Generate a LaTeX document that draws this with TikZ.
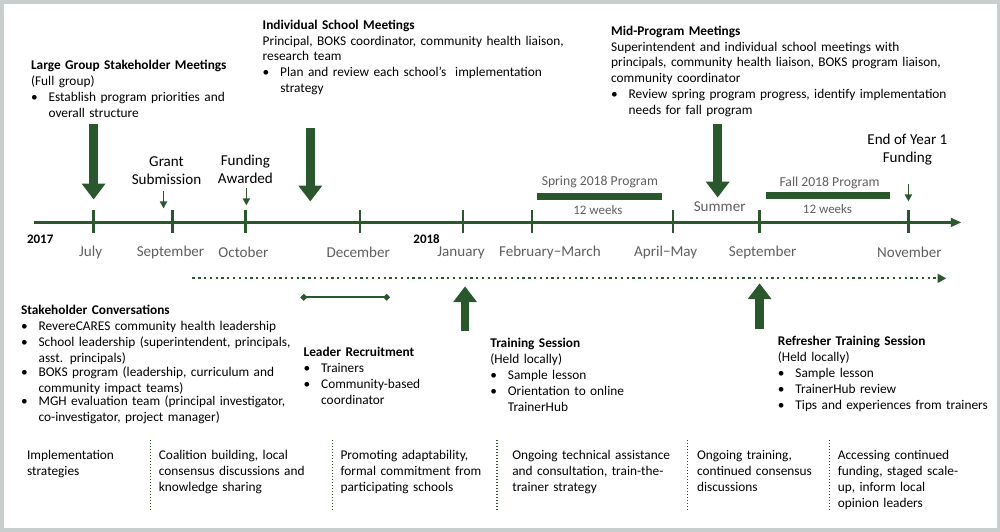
\documentclass[tikz,border=0pt]{standalone}
\usepackage{fontspec}
\setmainfont{Carlito}
\usetikzlibrary{arrows.meta}
\definecolor{gr}{RGB}{40,88,44}
\definecolor{mo}{RGB}{95,95,95}
\definecolor{fr}{RGB}{200,205,205}
\newcommand{\bl}[1]{\par\noindent\makebox[10pt][l]{•}\parbox[t]{8.5cm}{#1}}
\newcommand{\pl}[1]{\par\noindent #1}
\newcommand{\nl}{\newline}
\begin{document}
\begin{tikzpicture}[x=0.02cm,y=-0.02cm,
 txt/.style={anchor=north west,inner sep=0pt,text width=9cm,font=\fontsize{7.6}{9.1}\selectfont},
 mon/.style={text=mo,font=\fontsize{8.6}{10}\selectfont,inner sep=0pt},
 lab/.style={font=\fontsize{8.6}{10}\selectfont,inner sep=0pt,align=center},
 sml/.style={text=mo,font=\fontsize{7.4}{9}\selectfont,inner sep=0pt},
 yr/.style={font=\bfseries\fontsize{7.4}{9}\selectfont,inner sep=0pt},
 big/.style={gr,line width=5pt,-{Triangle[length=9pt,width=13pt]}},
 thin/.style={gr,line width=1pt,-{Triangle[length=4pt,width=4pt]}},
 sep/.style={gr,densely dotted,line width=0.7pt}]
\draw[fr,line width=2pt,fill=white] (1,1) rectangle (999,530);
\useasboundingbox (0,0) rectangle (1000,531);
% timeline
\coordinate (t0) at (33,222); \coordinate (t1) at (962,222);
\draw[gr,line width=1.3pt,-{Triangle[length=6pt,width=5pt]}] (t0) -- (t1);
\foreach \x in {93,172,245,360,463,532,673,760,909}
  \draw[gr,line width=1.3pt] (\x,210) -- (\x,233);
\node[yr,anchor=west] (y17) at (26,239) {2017};
\node[yr,anchor=west] (y18) at (413,239) {2018};
\foreach \x/\t [count=\i] in {90/July,170/September,243/October,358/December,461/January,550/February−March,666/April−May,763/September,910/November}
  \node[mon] (m\i) at (\x,252) {\t};
% dotted
\coordinate (d0) at (192,278); \coordinate (d1) at (947,278);
\draw[gr,line width=1.3pt,dotted,-{Triangle[length=5pt,width=5pt]}] (d0) -- (d1);
% leader recruitment span
\coordinate (l0) at (300,297); \coordinate (l1) at (390,297);
\draw[gr,line width=1pt,{Diamond[length=4pt,width=4pt]}-{Diamond[length=4pt,width=4pt]}] (l0) -- (l1);
% programs
\coordinate (s0) at (537,196); \coordinate (s1) at (662,196);
\draw[gr,line width=4.5pt] (s0) -- (s1);
\node[mon,font=\fontsize{7.8}{9}\selectfont] (sp) at (600,181) {Spring 2018 Program};
\node[sml] (sw) at (598,210) {12 weeks};
\coordinate (f0) at (766,195); \coordinate (f1) at (891,195);
\draw[gr,line width=4.5pt] (f0) -- (f1);
\node[mon,font=\fontsize{7.8}{9}\selectfont] (fp) at (830,182) {Fall 2018 Program};
\node[sml] (fw) at (828,209) {12 weeks};
\node[mon] (su) at (720,206) {Summer};
% labels
\node[lab] (gs) at (166,170) {Grant\\Submission};
\node[lab] (fa) at (245,169) {Funding\\Awarded};
\node[lab] (ey) at (908,149) {End of Year 1\\Funding};
% arrows
\coordinate (a1s) at (93,123); \coordinate (a1e) at (93,199);
\draw[big] (a1s) -- (a1e);
\coordinate (a2s) at (310,127); \coordinate (a2e) at (310,201);
\draw[big] (a2s) -- (a2e);
\coordinate (a3s) at (718,123); \coordinate (a3e) at (718,197);
\draw[big] (a3s) -- (a3e);
\coordinate (b1s) at (465,331); \coordinate (b1e) at (465,286);
\draw[big] (b1s) -- (b1e);
\coordinate (b2s) at (760,329); \coordinate (b2e) at (760,283);
\draw[big] (b2s) -- (b2e);
\coordinate (c1s) at (163,191); \coordinate (c1e) at (163,208);
\draw[thin] (c1s) -- (c1e);
\coordinate (c2s) at (246,188); \coordinate (c2e) at (246,205);
\draw[thin] (c2s) -- (c2e);
\coordinate (c3s) at (909,184); \coordinate (c3e) at (909,201);
\draw[thin] (c3s) -- (c3e);
% text blocks
\node[txt] (lg) at (30,53) {\pl{\textbf{Large Group Stakeholder Meetings}}\pl{(Full group)}\bl{Establish program priorities and\nl overall structure}};
\node[txt] (is) at (262,12) {\pl{\textbf{Individual School Meetings}}\pl{Principal, BOKS coordinator, community health liaison,\nl research team}\bl{Plan and review each school’s\ \ implementation\nl strategy}};
\node[txt] (mp) at (611,18) {\pl{\textbf{Mid-Program Meetings}}\pl{Superintendent and individual school meetings with\nl principals, community health liaison, BOKS program liaison,\nl community coordinator}\bl{Review spring program progress, identify implementation\nl needs for fall program}};
\node[txt] (sc) at (20,298) {\pl{\textbf{Stakeholder Conversations}}\bl{RevereCARES community health leadership}\bl{School leadership (superintendent, principals,\nl asst. principals)}\bl{BOKS program (leadership, curriculum and\nl community impact teams)}\bl{MGH evaluation team (principal investigator,\nl co-investigator, project manager)}};
\node[txt] (lr) at (303,340) {\pl{\textbf{Leader Recruitment}}\bl{Trainers}\bl{Community-based\nl coordinator}};
\node[txt] (ts) at (490,331) {\pl{\textbf{Training Session}}\pl{(Held locally)}\bl{Sample lesson}\bl{Orientation to online\nl TrainerHub}};
\node[txt] (rt) at (778,329) {\pl{\textbf{Refresher Training Session}}\pl{(Held locally)}\bl{Sample lesson}\bl{TrainerHub review}\bl{Tips and experiences from trainers}};
% bottom columns
\foreach \x/\t [count=\i] in {26/{Implementation\nl strategies},158/{Coalition building, local\nl consensus discussions and\nl knowledge sharing},340/{Promoting adaptability,\nl formal commitment from\nl participating schools},512/{Ongoing technical assistance\nl and consultation, train-the-\nl trainer strategy},697/{Ongoing training,\nl continued consensus\nl discussions},838/{Accessing continued\nl funding, staged scale-\nl up, inform local\nl opinion leaders}}
  \node[txt] (bc\i) at (\x,443) {\pl{\t}};
\foreach \x [count=\i] in {150,332,497,688,830}{
  \coordinate (sa\i) at (\x,440); \coordinate (sb\i) at (\x,511);
  \draw[sep] (sa\i) -- (sb\i);}
\end{tikzpicture}
\end{document}
